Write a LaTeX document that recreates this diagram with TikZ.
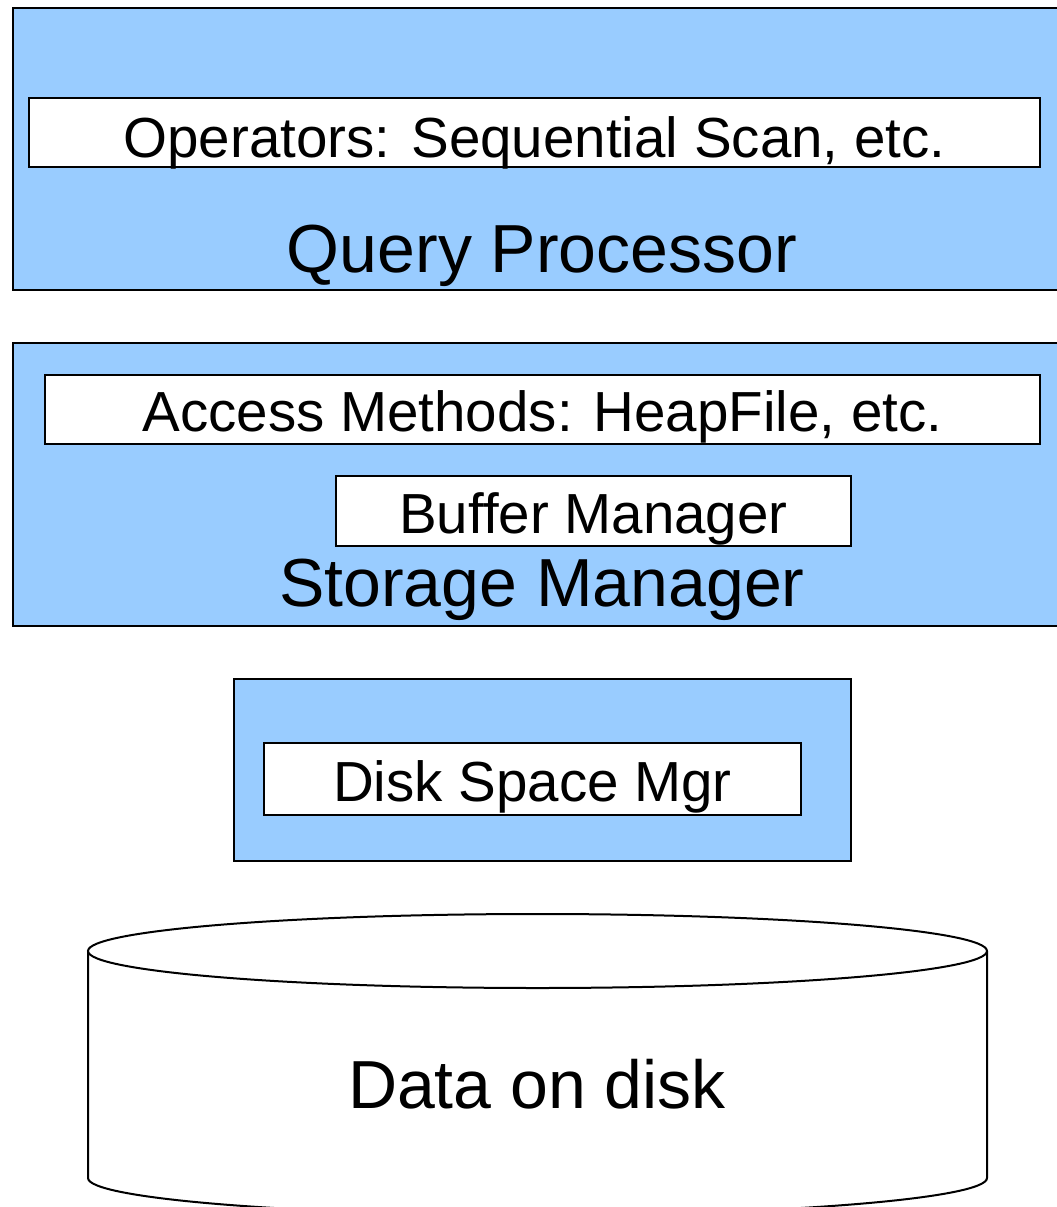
\documentclass[tikz,border=0pt]{standalone}
\usepackage{fontspec}
\setmainfont{Liberation Sans}
\usepackage{xcolor}
\usetikzlibrary{positioning}
\definecolor{layerblue}{HTML}{99CCFF}
\tikzset{
    layer/.style = {rectangle, draw=black, fill=layerblue, line width=2pt, inner sep=0pt},
    part/.style = {rectangle, draw=black, fill=white, line width=2pt, inner sep=0pt, text height=44pt, text depth=0pt, font=\fontsize{56.5}{60}\selectfont},
    title/.style = {anchor=base, inner sep=0pt, font=\fontsize{68}{72}\selectfont},
}

\begin{document}
\begin{tikzpicture}[x=1pt, y=-1pt]
\useasboundingbox (0,0) rectangle (1057,1207);
% query processor
\node[layer, minimum width=1067pt, minimum height=282pt] at (546.5,149) (qp) {};
\node[part, text height=49pt, minimum width=1011pt, minimum height=69pt] at (534.5,132.5) (ops) {Operators: Sequential Scan, etc.};
\node[title] at (542,272) (qplabel) {Query Processor};
% storage manager
\node[layer, minimum width=1067pt, minimum height=283pt] at (546.5,484.5) (sm) {};
\node[part, minimum width=995pt, minimum height=69pt] at (542.5,409.5) (am) {Access Methods: HeapFile, etc.};
\node[part, minimum width=515pt, minimum height=70pt] at (593.5,511) (bm) {Buffer Manager};
\node[title] at (542,606) (smlabel) {Storage Manager};
% disk space
\node[layer, minimum width=617pt, minimum height=182pt] at (542.5,770) (ds) {};
\node[part, minimum width=537pt, minimum height=72pt] at (532.5,779) (dsm) {Disk Space Mgr};
% disk
\draw[line width=2pt, fill=white] (88,951) -- (88,1178) arc[start angle=180, end angle=360, x radius=449.5pt, y radius=37pt] -- (987,951);
\draw[line width=2pt, fill=white] (537.5,951) ellipse[x radius=449.5pt, y radius=37pt];
\node[title] at (537,1108) (disk) {Data on disk};
\end{tikzpicture}
\end{document}
